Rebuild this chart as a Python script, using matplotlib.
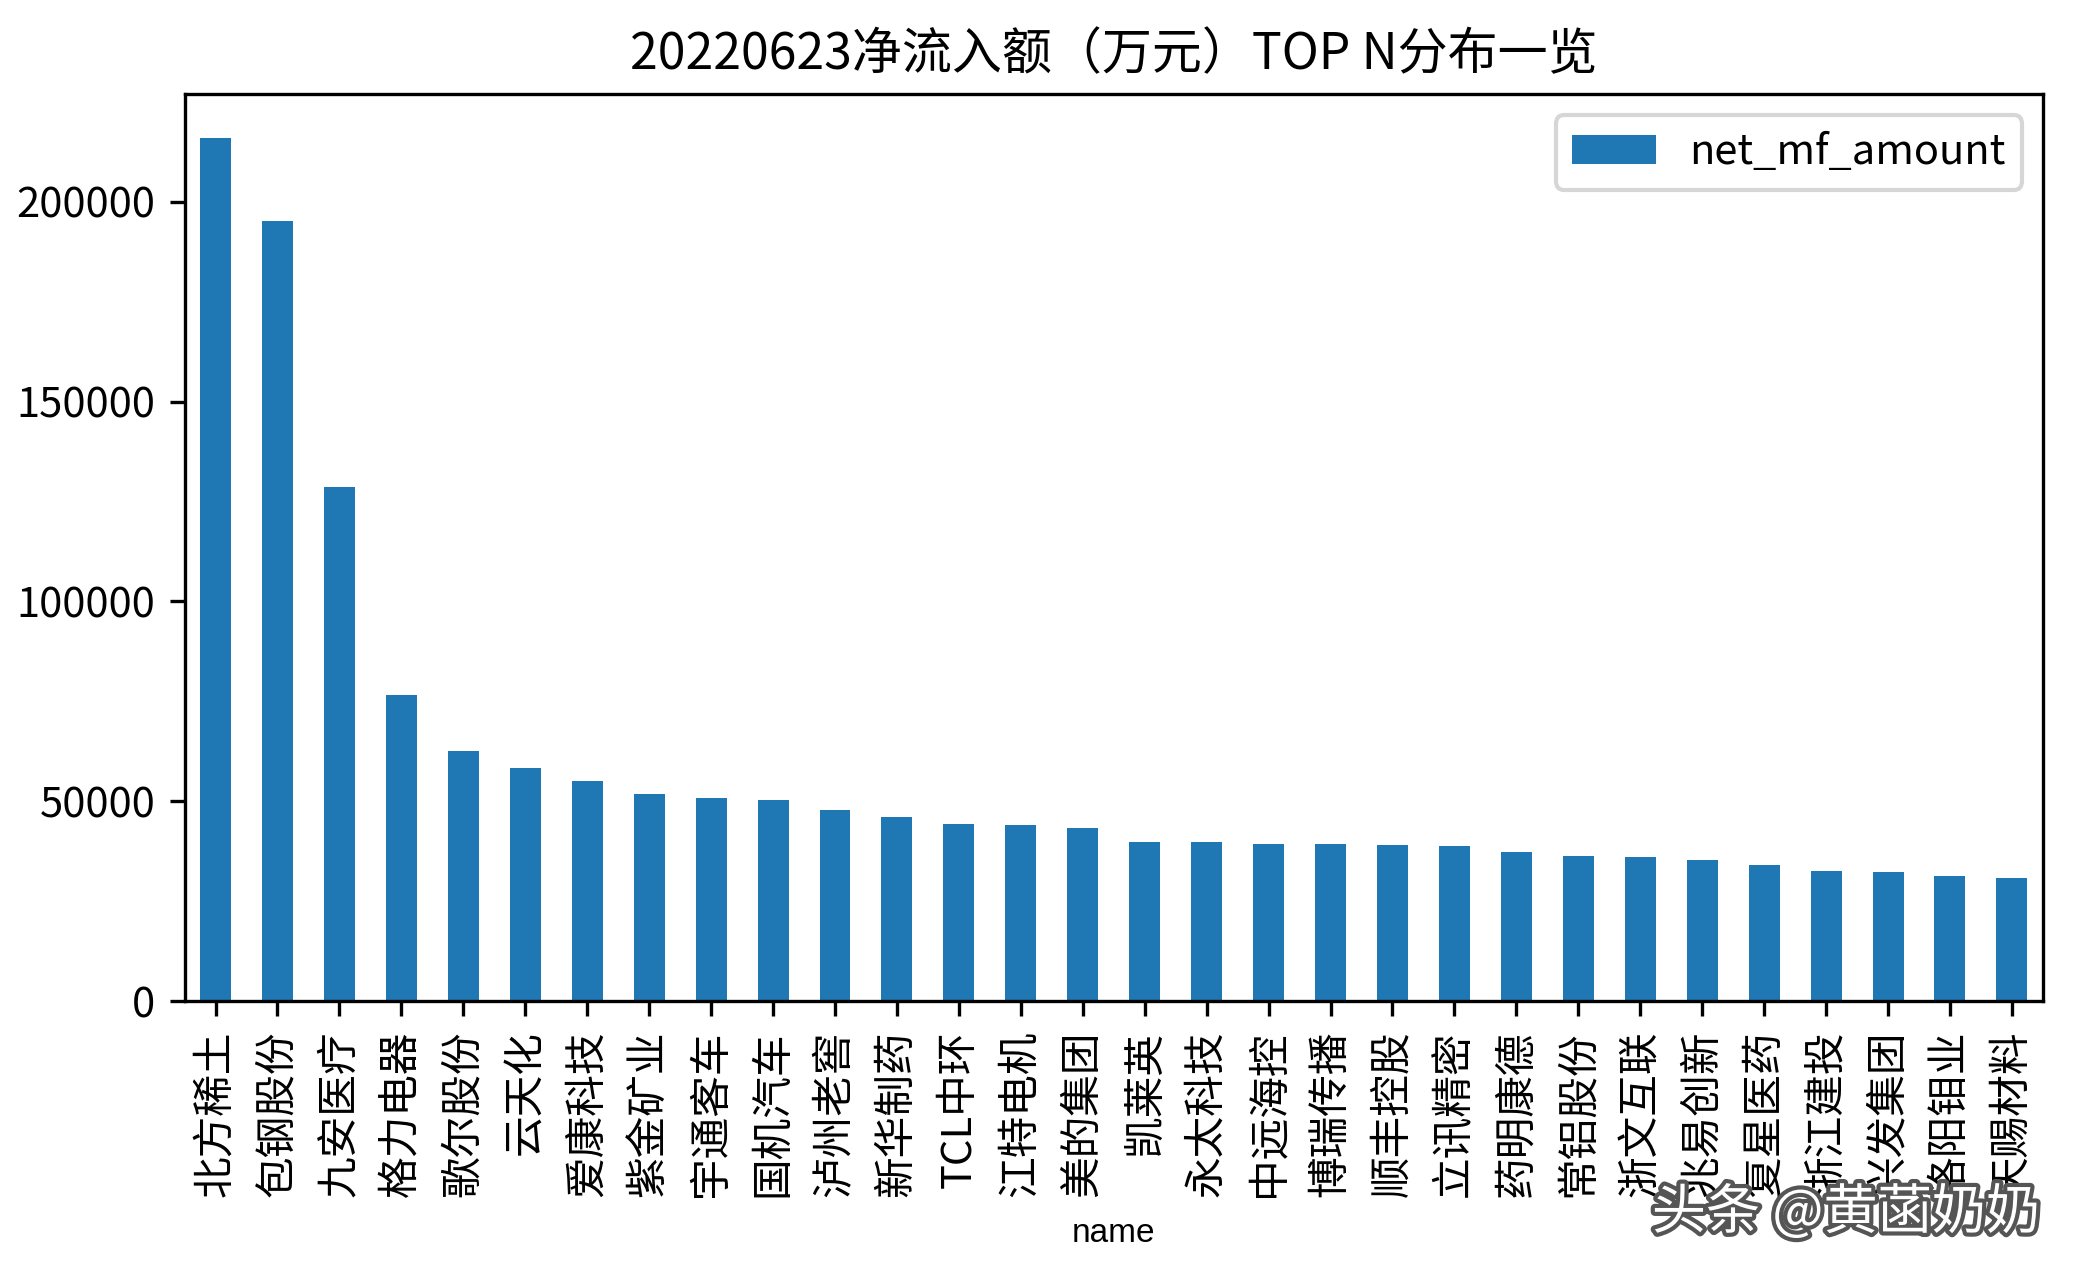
import matplotlib
matplotlib.use("Agg")
import matplotlib.pyplot as plt
import matplotlib.patheffects as pe
import numpy as np

plt.rcParams['font.family'] = ['Noto Sans CJK SC', 'DejaVu Sans']
plt.rcParams['axes.unicode_minus'] = False

names = ['北方稀土', '包钢股份', '九安医疗', '格力电器', '歌尔股份', '云天化',
         '爱康科技', '紫金矿业', '宇通客车', '国机汽车', '泸州老窖', '新华制药',
         'TCL中环', '江特电机', '美的集团', '凯莱英', '永太科技', '中远海控',
         '博瑞传播', '顺丰控股', '立讯精密', '药明康德', '常铝股份', '浙文互联',
         '兆易创新', '复星医药', '浙江建投', '兴发集团', '洛阳钼业', '天赐材料']
net_mf_amount = [216000, 195100, 128700, 76700, 62500, 58400,
                 55000, 51900, 50700, 50400, 47700, 46000,
                 44400, 44000, 43400, 39700, 39700, 39400,
                 39400, 39100, 38700, 37400, 36400, 36100,
                 35400, 34100, 32500, 32200, 31200, 30800]

fig, ax = plt.subplots(figsize=(6.9133, 4.2567), dpi=300)
fig.subplots_adjust(left=0.089, right=0.985, top=0.926, bottom=0.216)

x = np.arange(len(names))
ax.bar(x, net_mf_amount, width=0.5, color='#1f77b4', label='net_mf_amount')
ax.set_xlim(-0.5, len(names) - 0.5)
ax.set_xticks(x)
ax.set_xticklabels(names, rotation=90)
ax.set_xlabel('name', fontsize=8, family='Liberation Sans', labelpad=5)
ax.set_title('20220623净流入额（万元）TOP N分布一览')
ax.legend(loc='upper right')

# watermark
fig.text(0.89, 0.05, '头条 @黄菡奶奶', fontsize=13, color='white', ha='center', va='center',
         path_effects=[pe.withStroke(linewidth=2, foreground='#555555')])

fig.savefig('out.png', dpi=300)
